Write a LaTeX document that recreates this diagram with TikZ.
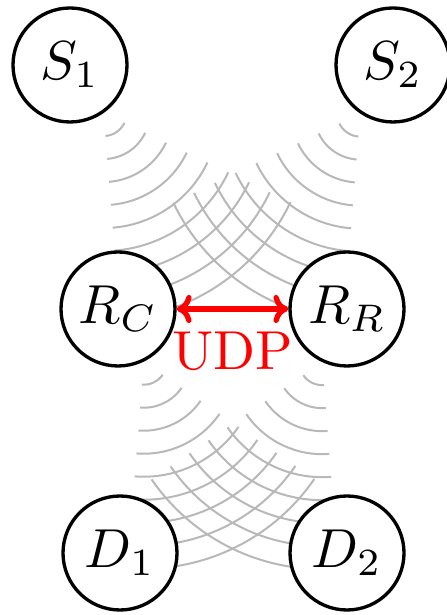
\documentclass[tikz,border=0pt]{standalone}
\usetikzlibrary{arrows.meta,backgrounds}
\usepackage{graphicx}
\newcommand{\bigtxt}[1]{\scalebox{2.06}{#1}}
\tikzset{
  station/.style={circle, draw=black, line width=1.25pt, fill=white,
    minimum size=42.75pt, inner sep=0pt},
  wave/.style={draw=black!28, line width=0.75pt},
  udparrow/.style={draw=red, line width=2pt,
    {Computer Modern Rightarrow[length=5.6pt,width=10.5pt]}-{Computer Modern Rightarrow[length=5.6pt,width=10.5pt]}},
  udplabel/.style={text=red, inner sep=0pt, anchor=base},
}
\begin{document}
\begin{tikzpicture}[x=0.375pt,y=0.375pt]
\useasboundingbox (0,0) rectangle (446,615);
\node[station] (S1) at (70,550) {\bigtxt{$S_1$}};
\node[station] (S2) at (393,550) {\bigtxt{$S_2$}};
\node[station] (RC) at (118,306) {\bigtxt{$R_C$}};
\node[station] (RR) at (347,306) {\bigtxt{$R_R$}};
\node[station] (D1) at (120,62) {\bigtxt{$D_1$}};
\node[station] (D2) at (347,62) {\bigtxt{$D_2$}};
\begin{scope}[on background layer]
\foreach \nd/\ang in {S1/-55.5, S2/-124.5, RC/-64.5, RR/-115.5}{
  \foreach \k in {1,...,9}{
    \draw[wave] (\nd.\ang) ++({\ang-30}:{\k*8.625pt})
      arc[start angle={\ang-30}, end angle={\ang+30}, radius={\k*8.625pt}];
  }
}
\end{scope}
\draw[udparrow] (RC) -- (RR);
\node[udplabel] (udp) at (233,245) {\bigtxt{UDP}};
\end{tikzpicture}
\end{document}
